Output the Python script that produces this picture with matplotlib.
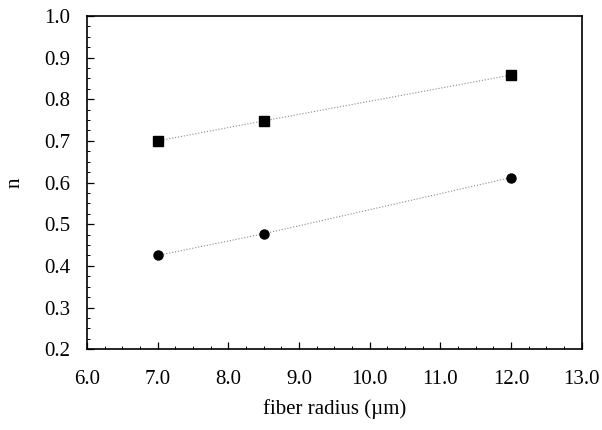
import matplotlib
matplotlib.use("Agg")
import matplotlib.pyplot as plt
from matplotlib.ticker import MultipleLocator, FormatStrFormatter

plt.rcParams['font.family'] = ['Liberation Serif', 'DejaVu Serif']

radius = [7.0, 8.5, 12.0]
n_square = [0.700, 0.748, 0.858]
n_circle = [0.425, 0.477, 0.612]

fig = plt.figure(figsize=(6.02, 4.30), dpi=100)
ax = fig.add_axes([0.1445, 0.188, 0.822, 0.775])

ax.plot(radius, n_square, linestyle=':', color='#888888', linewidth=0.8)
ax.plot(radius, n_circle, linestyle=':', color='#888888', linewidth=0.8)
ax.plot(radius, n_square, 's', color='black', markersize=7, linestyle='none')
ax.plot(radius, n_circle, 'o', color='black', markersize=6.5, linestyle='none')

ax.set_xlim(6.0, 13.0)
ax.set_ylim(0.2, 1.0)
ax.xaxis.set_major_locator(MultipleLocator(1.0))
ax.xaxis.set_minor_locator(MultipleLocator(0.25))
ax.yaxis.set_major_locator(MultipleLocator(0.1))
ax.yaxis.set_minor_locator(MultipleLocator(0.025))
ax.xaxis.set_major_formatter(FormatStrFormatter('%.1f'))
ax.yaxis.set_major_formatter(FormatStrFormatter('%.1f'))

ax.tick_params(which='both', direction='in', labelsize=15)
ax.tick_params(which='major', length=5, width=0.9)
ax.tick_params(axis='x', which='major', pad=15)
ax.tick_params(axis='y', which='major', pad=12)
ax.tick_params(which='minor', length=2.5, width=0.7)
for s in ax.spines.values():
    s.set_linewidth(1.2)

ax.set_xlabel('fiber radius (\u00b5m)', fontsize=15, labelpad=7)
ax.set_ylabel('n', fontsize=15, rotation=90, labelpad=14)

fig.savefig('out.png', dpi=100)
